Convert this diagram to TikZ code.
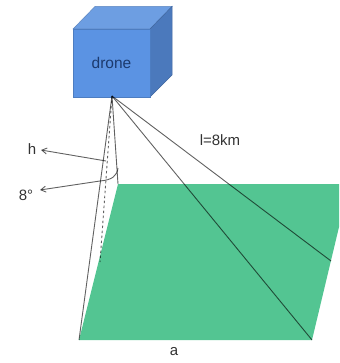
\documentclass[tikz,border=0pt]{standalone}
\usepackage{fontspec}
\setmainfont{Liberation Sans}
\usetikzlibrary{arrows.meta}
\definecolor{grassc}{HTML}{53C592}
\definecolor{frontc}{HTML}{5B93E3}
\definecolor{topc}{HTML}{6D9EE2}
\definecolor{sidec}{HTML}{4B79BC}
\definecolor{inkc}{HTML}{333333}
\definecolor{dronec}{HTML}{1C3A6E}
\tikzset{
  face/.style={draw=#1!85!black, line width=.5pt, fill=#1},
  ray/.style={draw=black, draw opacity=.62, line width=.9pt},
  pointer/.style={draw=black, draw opacity=.62, line width=.9pt, -{Straight Barb[length=5pt,width=6pt]}},
  lbl/.style={text=inkc, font=\fontsize{15}{17}\selectfont, inner sep=0pt}
}
\begin{document}
\begin{tikzpicture}[x=1pt,y=-1pt]
\useasboundingbox (0,0) rectangle (339,363);
% ground
\fill[grassc] (118,184) -- (339,184) -- (339,227) -- (312,340) -- (79,340) -- cycle;
% drone cube
\filldraw[face=topc] (73,29) -- (95,6.5) -- (172,6.5) -- (150,29) -- cycle;
\filldraw[face=sidec] (150,29) -- (172,6.5) -- (172,75) -- (150,97) -- cycle;
\node[face=frontc, minimum width=77pt, minimum height=68pt, inner sep=0pt, outer sep=0pt,
  text=dronec, font=\fontsize{15.5}{17}\selectfont] (drone) at (111.5,63) {drone};
% key points
\coordinate (apex) at (112,96);
\coordinate (farleft) at (118,184);
\coordinate (nearleft) at (79,340);
\coordinate (nearright) at (312,340);
\coordinate (edgeright) at (331,261);
\coordinate (foot) at (100,262);
\coordinate (hstart) at (106,161);
\coordinate (htip) at (41,150);
\coordinate (bend) at (100,181);
\coordinate (angletip) at (40,190);
\coordinate (arcstart) at (118,168);
% rays
\draw[ray] (apex) -- (nearleft);
\draw[ray] (apex) -- (farleft);
\draw[ray] (apex) -- (nearright);
\draw[ray] (apex) -- (edgeright);
\draw[draw=black, draw opacity=.62, line width=.9pt, dash pattern=on 2.5pt off 2.5pt] (apex) -- (foot);
% labels
\node[lbl] (h) at (32,149) {h};
\node[lbl] (angle) at (26,195) {8°};
\node[lbl] (len) at (220,140) {l=8km};
\node[lbl] (base) at (174,352) {a};
% pointers
\draw[pointer] (hstart) -- (htip);
\draw[ray] (arcstart) .. controls (117,176) and (112,180) .. (bend);
\draw[pointer] (bend) -- (angletip);
\end{tikzpicture}
\end{document}
